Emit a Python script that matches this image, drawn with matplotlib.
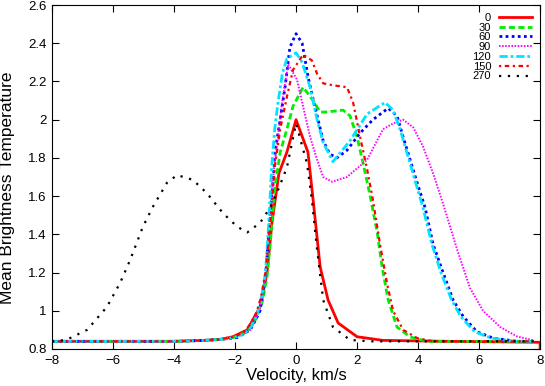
import matplotlib
matplotlib.use("Agg")
import matplotlib.pyplot as plt

plt.rcParams['font.family'] = ['Liberation Sans', 'DejaVu Sans']

labels = ["0", "30", "60", "90", "120", "150", "270"]

v_0 = [-8, -4, -3, -2.5, -2.07, -1.6, -1.18, -0.95, -0.79, -0.56, -0.3, 0.0, 0.39,
       0.56, 0.79, 1.05, 1.38, 2.0, 2.85, 5.0, 8.0, 8.0]
t_0 = [0.84, 0.84, 0.845, 0.85, 0.864, 0.9, 1.02, 1.2, 1.46, 1.72, 1.83, 2.0, 1.83,
       1.58, 1.23, 1.056, 0.936, 0.864, 0.845, 0.84, 0.835, 0.8]

v_30 = [-8, -4, -3, -2.5, -2.0, -1.6, -1.3, -1.1, -0.95, -0.85, -0.69, -0.52, -0.3,
        -0.1, 0.23, 0.56, 0.79, 1.0, 1.54, 1.77, 2.0, 2.2, 2.43, 2.66, 2.82, 3.02,
        3.31, 3.74, 4.3, 6.0, 7.8]
t_30 = [0.84, 0.84, 0.845, 0.85, 0.862, 0.89, 0.96, 1.05, 1.18, 1.35, 1.65, 1.83, 1.95,
        2.07, 2.17, 2.1, 2.04, 2.04, 2.05, 2.02, 1.91, 1.77, 1.6, 1.41, 1.23, 1.056,
        0.915, 0.863, 0.84, 0.84, 0.84]

v_60 = [-8, -4, -3, -2.5, -1.93, -1.5, -1.3, -1.18, -1.0, -0.85, -0.66, -0.52, -0.36,
        -0.2, 0.0, 0.2, 0.4, 0.6, 0.89, 1.11, 1.34, 1.67, 2.1, 2.52, 3.02, 3.31, 3.51,
        3.74, 3.97, 4.23, 4.49, 4.82, 5.15, 5.48, 5.93, 6.46, 7.25, 7.8]
t_60 = [0.84, 0.84, 0.845, 0.85, 0.86, 0.9, 0.96, 1.0, 1.18, 1.5, 1.86, 2.0, 2.17,
        2.38, 2.45, 2.4, 2.22, 2.08, 1.89, 1.82, 1.8, 1.84, 1.93, 2.0, 2.06, 2.02, 1.91,
        1.79, 1.67, 1.54, 1.35, 1.2, 1.056, 0.97, 0.89, 0.857, 0.84, 0.84]

v_90 = [-8, -4, -3, -2.5, -2.0, -1.5, -1.3, -1.15, -1.0, -0.85, -0.72, -0.59, -0.46,
        -0.26, 0.03, 0.23, 0.46, 0.69, 0.89, 1.18, 1.67, 2.33, 2.85, 3.18, 3.51, 3.84,
        4.16, 4.49, 4.82, 5.28, 5.7, 6.13, 6.69, 7.25, 7.8]
t_90 = [0.84, 0.84, 0.845, 0.85, 0.862, 0.9, 0.96, 1.04, 1.2, 1.5, 1.75, 1.91, 2.09,
        2.29, 2.21, 2.07, 1.91, 1.79, 1.7, 1.675, 1.7, 1.79, 1.95, 1.98, 2.0, 1.96,
        1.86, 1.72, 1.56, 1.32, 1.12, 1.0, 0.915, 0.865, 0.845]

v_120 = [-8, -4, -3, -2.5, -2.0, -1.7, -1.5, -1.3, -1.15, -1.0, -0.9, -0.8, -0.7,
         -0.6, -0.45, -0.3, 0.0, 0.2, 0.46, 0.69, 0.89, 1.21, 1.77, 2.33, 2.92, 3.18,
         3.41, 3.74, 4.16, 4.45, 4.75, 5.1, 5.4, 5.85, 6.4, 7.2, 7.8]
t_120 = [0.84, 0.84, 0.845, 0.85, 0.862, 0.88, 0.91, 0.97, 1.05, 1.2, 1.45, 1.75, 1.95,
         2.08, 2.24, 2.32, 2.35, 2.3, 2.17, 2.0, 1.88, 1.78, 1.89, 2.03, 2.09, 2.05,
         1.95, 1.77, 1.54, 1.35, 1.2, 1.056, 0.97, 0.89, 0.857, 0.84, 0.84]

v_150 = [-8, -4, -3, -2.5, -2.0, -1.7, -1.5, -1.3, -1.15, -1.0, -0.85, -0.7, -0.52,
         -0.3, -0.1, 0.23, 0.52, 0.69, 0.89, 1.21, 1.67, 1.87, 2.1, 2.33, 2.52, 2.75,
         2.98, 3.18, 3.51, 3.97, 4.5, 6.0, 7.8]
t_150 = [0.84, 0.84, 0.845, 0.85, 0.865, 0.89, 0.93, 0.99, 1.07, 1.2, 1.45, 1.75, 1.95,
         2.12, 2.26, 2.34, 2.31, 2.24, 2.19, 2.18, 2.17, 2.09, 1.91, 1.74, 1.58, 1.35,
         1.145, 1.0, 0.9, 0.857, 0.84, 0.84, 0.84]

v_270 = [-8, -7.84, -7.5, -6.85, -6.2, -5.77, -5.44, -5.02, -4.69, -4.23, -3.9, -3.38,
         -2.92, -2.39, -1.93, -1.6, -1.18, -0.85, -0.62, -0.3, 0.0, 0.36, 0.52, 0.69,
         0.89, 1.21, 1.77, 2.5, 5.0, 7.8]
t_270 = [0.84, 0.84, 0.85, 0.9, 1.02, 1.145, 1.265, 1.44, 1.545, 1.67, 1.71, 1.685,
         1.615, 1.51, 1.44, 1.41, 1.46, 1.54, 1.62, 1.75, 1.98, 1.77, 1.58, 1.32,
         1.056, 0.915, 0.847, 0.84, 0.84, 0.84]

fig = plt.figure(figsize=(5.45, 3.86), dpi=100)
ax = fig.add_axes([0.0954, 0.0959, 0.8956, 0.8911])

ax.plot(v_0, t_0, color='#ff0000', lw=2.0, ls='-', label=labels[0])
ax.plot(v_30, t_30, color='#00ee00', lw=2.0, ls=(0, (2.2, 1.2)), label=labels[1])
ax.plot(v_60, t_60, color='#0000ff', lw=2.0, ls=(0, (1, 1.2)), label=labels[2])
ax.plot(v_90, t_90, color='#ff00ff', lw=1.4, ls=(0, (0.8, 0.8)), label=labels[3])
ax.plot(v_120, t_120, color='#00e5ff', lw=2.0, ls=(0, (3, 1, 1, 1)), label=labels[4])
ax.plot(v_150, t_150, color='#ff0000', lw=1.6, ls=(0, (1, 1.6, 2, 1.6)), label=labels[5])
ax.plot(v_270, t_270, color='#000000', lw=1.6, ls=(0, (1, 3)), label=labels[6])

ax.set_xlim(-8, 8)
ax.set_ylim(0.8, 2.6)
ax.set_xticks(range(-8, 9, 2))
ax.set_yticks([0.8, 1, 1.2, 1.4, 1.6, 1.8, 2, 2.2, 2.4, 2.6])
ax.set_yticklabels(["0.8", "1", "1.2", "1.4", "1.6", "1.8", "2", "2.2", "2.4", "2.6"])
ax.tick_params(direction='in', top=True, right=True, length=5, labelsize=9.5, pad=4)
ax.set_xlabel("Velocity, km/s", fontsize=12, labelpad=1)
ax.set_ylabel("Mean Brightness Temperature", fontsize=12.5, labelpad=6)
ax.yaxis.set_label_coords(-0.075, 0.47)

leg = ax.legend(loc='upper right', frameon=False, markerfirst=False, fontsize=8,
                handlelength=3.0, labelspacing=-0.02, handletextpad=0.7,
                borderaxespad=0.3)

fig.savefig("out.png", dpi=100)
